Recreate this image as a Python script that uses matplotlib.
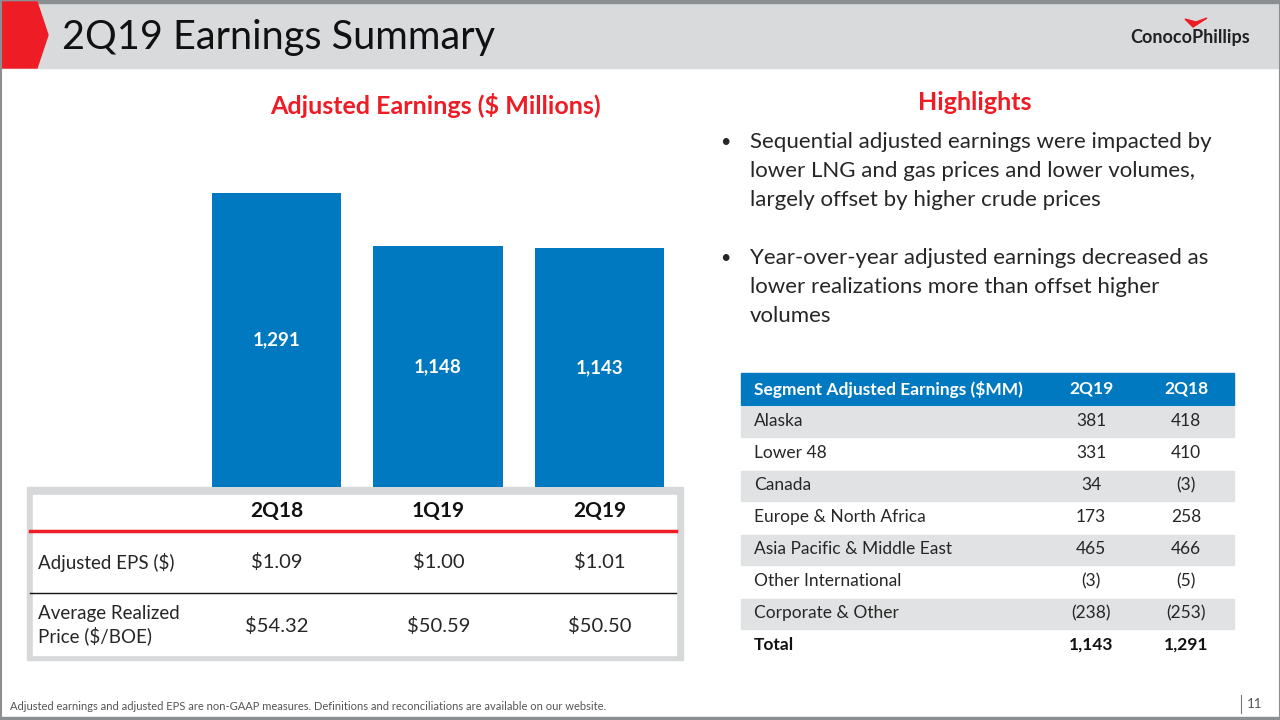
import matplotlib
matplotlib.use('Agg')
import matplotlib.pyplot as plt
from matplotlib.patches import Rectangle, Polygon

plt.rcParams['font.family'] = ['Lato', 'DejaVu Sans']

# ---------------------------------------------------------------- data
quarters = ['2Q18', '1Q19', '2Q19']
adj_earnings = [1291, 1148, 1143]
adj_eps = ['$1.09', '$1.00', '$1.01']
avg_price = ['$54.32', '$50.59', '$50.50']

segments = ['Alaska', 'Lower 48', 'Canada', 'Europe & North Africa',
            'Asia Pacific & Middle East', 'Other International',
            'Corporate & Other']
seg_2q19 = [381, 331, 34, 173, 465, -3, -238]
seg_2q18 = [418, 410, -3, 258, 466, -5, -253]

bullets = [
    ['Sequential adjusted earnings were impacted by',
     'lower LNG and gas prices and lower volumes,',
     'largely offset by higher crude prices'],
    ['Year-over-year adjusted earnings decreased as',
     'lower realizations more than offset higher',
     'volumes'],
]

RED = '#ee1c25'
BLUE = '#0079c1'
GRAY_ROW = '#e1e2e3'
TXT = '#262626'


def fmt(v):
    return '(%s)' % format(abs(v), ',') if v < 0 else format(v, ',')


def fx(px):
    return px / 1280.0


def fy(py):
    return 1 - py / 720.0


fig = plt.figure(figsize=(12.8, 7.2), dpi=100)
bg = fig.add_axes([0, 0, 1, 1])
bg.set_xlim(0, 1280)
bg.set_ylim(720, 0)
bg.axis('off')

# header band, chevron, frame
bg.add_patch(Rectangle((0, 0), 1280, 68, color='#d8dadc', zorder=1))
bg.add_patch(Rectangle((0, 0), 1280, 2.5, color='#8c8f92', zorder=2))
bg.add_patch(Polygon([(0, 2), (37, 2), (48, 35), (37, 68), (0, 68)],
                     closed=True, color=RED, zorder=2))
bg.add_patch(Rectangle((0, 716.5), 1280, 3.5, color='#8c8f92', zorder=2))
bg.plot([0.5, 0.5], [0, 720], color='#8c8f92', lw=1.5, zorder=2)
bg.plot([1279.5, 1279.5], [0, 720], color='#8c8f92', lw=1.5, zorder=2)
bg.text(62, 37, '2Q19 Earnings Summary', fontsize=28.5, color='#111111',
        va='center', ha='left', zorder=3)

# logo
bg.text(1190, 37, 'ConocoPhillips', fontsize=13, color='#222222',
        fontweight='bold', va='center', ha='center', zorder=3)
bg.add_patch(Polygon([(1185, 19), (1193, 27), (1207, 18), (1196, 22)],
                     closed=True, color=RED, zorder=3))

# titles
bg.text(435, 105, 'Adjusted Earnings ($ Millions)', fontsize=18,
        color=RED, fontweight='bold', ha='center', va='center')
bg.text(975, 103, 'Highlights', fontsize=18, color=RED,
        fontweight='bold', ha='center', va='center')

# bullets
for b, lines in enumerate(bullets):
    y0 = 142 + b * 116
    bg.text(720, y0, '\u2022', fontsize=13, color=TXT, ha='left', va='center')
    for i, line in enumerate(lines):
        bg.text(750, y0 + i * 29, line, fontsize=16, color=TXT,
                ha='left', va='center')

# ---------------------------------------------------------------- bars
ax = fig.add_axes([fx(195.75), fy(487), fx(680.25 - 195.75), (487 - 150) / 720.0])
ax.patch.set_alpha(0)
x = range(len(quarters))
ax.bar(x, adj_earnings, width=0.8, color=BLUE)
ax.set_xlim(-0.5, 2.5)
ax.set_ylim(500, 1407)
for i, v in enumerate(adj_earnings):
    ax.text(i, (v + 500) / 2.0, format(v, ','), color='white',
            fontsize=13.5, fontweight='bold', ha='center', va='center')
ax.axis('off')

# ---------------------------------------------------------------- left table
bg.add_patch(Rectangle((27, 487), 656, 173, color='#d6d8da', zorder=1))
bg.add_patch(Rectangle((33, 495), 643, 160, color='white', zorder=2))
col_x = [276.5, 438.5, 599.5]
for cx, q in zip(col_x, quarters):
    bg.text(cx, 511, q, fontsize=15, fontweight='bold', color='#111111',
            ha='center', va='center', zorder=3)
bg.plot([30, 676], [531, 531], color=RED, lw=2.5, zorder=3)
bg.text(38, 562, 'Adjusted EPS ($)', fontsize=13.5, color=TXT,
        ha='left', va='center', zorder=3)
for cx, v in zip(col_x, adj_eps):
    bg.text(cx, 562, v, fontsize=14.5, color=TXT, ha='center', va='center', zorder=3)
bg.plot([30, 676], [593, 593], color='#111111', lw=1, zorder=3)
bg.text(38, 625, 'Average Realized\nPrice ($/BOE)', fontsize=13.5, color=TXT,
        ha='left', va='center', linespacing=1.3, zorder=3)
for cx, v in zip(col_x, avg_price):
    bg.text(cx, 626, v, fontsize=14.5, color=TXT, ha='center', va='center', zorder=3)

# ---------------------------------------------------------------- segment table
tx0, tx1 = 741, 1234
row_h = 32
top = 373
c2, c3 = 1091, 1186
fs = 12.5
bg.add_patch(Rectangle((tx0, top), tx1 - tx0, row_h, color=BLUE, zorder=1))
bg.text(754, top + 16, 'Segment Adjusted Earnings ($MM)', fontsize=fs,
        fontweight='bold', color='white', ha='left', va='center')
bg.text(c2, top + 16, '2Q19', fontsize=fs, fontweight='bold', color='white',
        ha='center', va='center')
bg.text(c3, top + 16, '2Q18', fontsize=fs, fontweight='bold', color='white',
        ha='center', va='center')
rows = list(zip(segments, seg_2q19, seg_2q18))
rows.append(('Total', sum(seg_2q19), sum(seg_2q18)))
for r, (name, a, b) in enumerate(rows):
    y = top + row_h * (r + 1)
    if r % 2 == 0 and name != 'Total':
        bg.add_patch(Rectangle((tx0, y + 1.5), tx1 - tx0, row_h - 1.5,
                               color=GRAY_ROW, zorder=1))
    wt = 'bold' if name == 'Total' else 'normal'
    col = '#111111' if name == 'Total' else TXT
    bg.text(754, y + 16, name, fontsize=fs, fontweight=wt, color=col,
            ha='left', va='center')
    bg.text(c2, y + 16, fmt(a), fontsize=fs, fontweight=wt, color=col,
            ha='center', va='center')
    bg.text(c3, y + 16, fmt(b), fontsize=fs, fontweight=wt, color=col,
            ha='center', va='center')

# ---------------------------------------------------------------- footer
bg.text(10, 706, 'Adjusted earnings and adjusted EPS are non-GAAP measures. '
        'Definitions and reconciliations are available on our website.',
        fontsize=8, color='#555555', ha='left', va='center')
bg.plot([1241, 1241], [695, 713], color='#777777', lw=0.8)
bg.text(1255, 704, '11', fontsize=9.5, color='#555555', ha='center', va='center')

fig.savefig('out.png', dpi=100)
